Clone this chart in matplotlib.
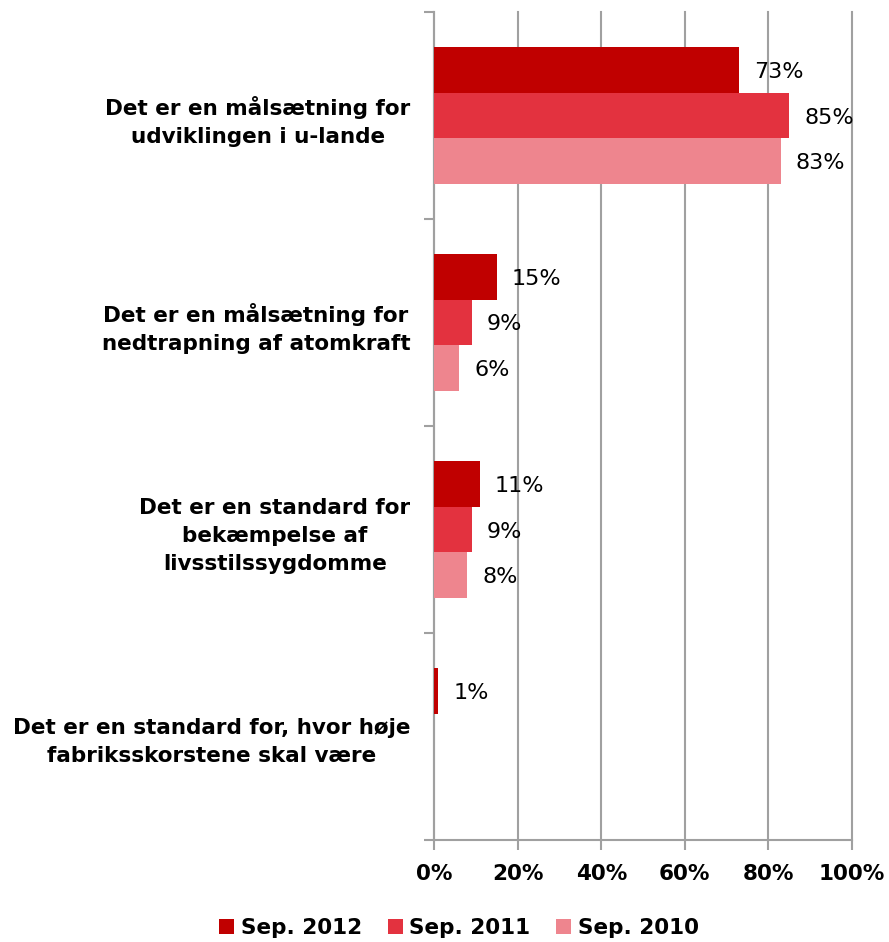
import matplotlib
matplotlib.use("Agg")
import matplotlib.pyplot as plt
import numpy as np

categories = [
    "Det er en målsætning for\nudviklingen i u-lande",
    "Det er en målsætning for\nnedtrapning af atomkraft",
    "Det er en standard for\nbekæmpelse af\nlivsstilssygdomme",
    "Det er en standard for, hvor høje\nfabriksskorstene skal være",
]
series_names = ["Sep. 2012", "Sep. 2011", "Sep. 2010"]
sep2012 = [73, 15, 11, 1]
sep2011 = [85, 9, 9, None]
sep2010 = [83, 6, 8, None]
colors = ["#C00000", "#E3323F", "#EE858E"]
xticks = [0, 20, 40, 60, 80, 100]

plt.rcParams['font.family'] = ['DejaVu Sans']

fig = plt.figure(figsize=(8.89, 9.42), dpi=100)
ax = fig.add_axes([434/889, 1-840/942, (852-434)/889, (840-12)/942])

h = 0.222
y = np.arange(len(categories))
all_series = [sep2012, sep2011, sep2010]
for i, (vals, name, c) in enumerate(zip(all_series, series_names, colors)):
    offs = (i - 1) * h
    yy = [yi + offs for yi, v in zip(y, vals) if v is not None]
    vv = [v for v in vals if v is not None]
    bars = ax.barh(yy, vv, height=h, color=c, label=name, zorder=3)
    for b, v in zip(bars, vv):
        ax.annotate(f"{v}%", (b.get_width(), b.get_y() + b.get_height()/2),
                    xytext=(15, -2), textcoords="offset pixels",
                    va="center", ha="left", fontsize=16, color="#000000")

ax.set_xlim(0, 100)
ax.set_ylim(3.5, -0.5)
ax.set_xticks(xticks)
ax.set_xticklabels([f"{t}%" for t in xticks], fontsize=15.5, fontweight="bold")
ax.set_yticks(y)
ax.set_yticklabels(categories, fontsize=15.5, fontweight="bold", ha="right",
                   multialignment="center", linespacing=1.5)
ax.tick_params(axis="y", which="major", length=0, pad=17)
ax.set_yticks([-0.5, 0.5, 1.5, 2.5, 3.5], minor=True)
ax.tick_params(axis="y", which="minor", length=7, width=1.5, color="#A0A0A0", direction="out")
ax.tick_params(axis="x", which="major", length=7, width=1.5, color="#A0A0A0", direction="out", pad=10)
ax.grid(axis="x", color="#A0A0A0", linewidth=1.5, zorder=0)
for gl in ax.get_xgridlines():
    gl.set_clip_on(False)
for s in ["top", "right"]:
    ax.spines[s].set_visible(False)
for s in ["left", "bottom"]:
    ax.spines[s].set_color("#A0A0A0")
    ax.spines[s].set_linewidth(1.5)

leg = fig.legend(loc="center", bbox_to_anchor=(459/889, 1-928/942), ncol=3, frameon=False,
                 prop={"size": 15.5, "weight": "bold"}, handlelength=0.7, handleheight=0.7,
                 handletextpad=0.3, columnspacing=1.2)

fig.savefig("out.png", dpi=100)
